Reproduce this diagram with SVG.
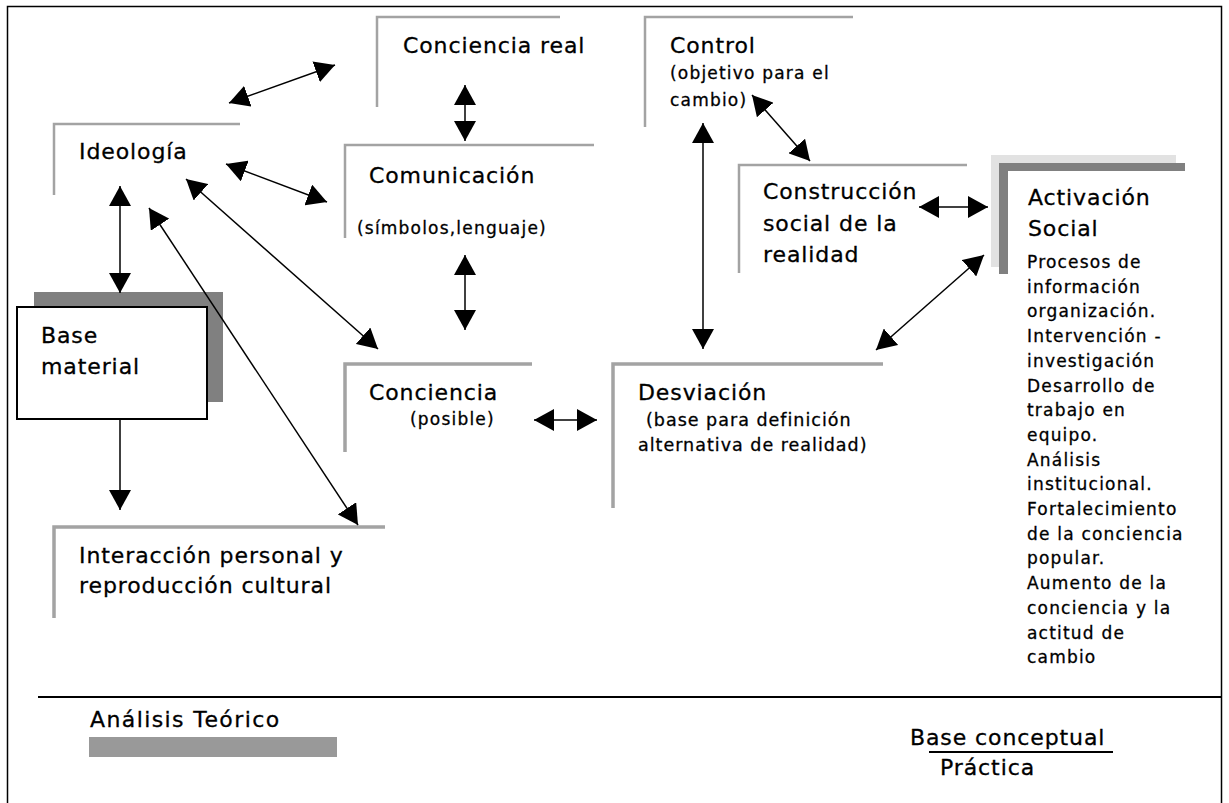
<svg xmlns="http://www.w3.org/2000/svg" width="1229" height="803" viewBox="0 0 1229 803">
<style>
text{font-family:"DejaVu Sans","Liberation Sans",sans-serif;fill:#000;stroke:#000;stroke-width:0.3px}
.big{font-size:22px;letter-spacing:0.9px}
.mid{font-size:17.5px;letter-spacing:1px}
.sm{font-size:17px;letter-spacing:1.2px}
.br{fill:none;stroke:#a3a3a3;stroke-width:2.5}
.brt{fill:none;stroke:#a3a3a3;stroke-width:3.5}
.con line{stroke:#000;stroke-width:1.5;marker-end:url(#ah)}
.con line.dbl{marker-start:url(#ah)}
</style>
<defs>
<marker id="ah" markerUnits="userSpaceOnUse" viewBox="0 0 20 22" markerWidth="20" markerHeight="22" refX="20" refY="11" orient="auto-start-reverse">
<path d="M0,0 L20,11 L0,22 z" fill="#000"/>
</marker>
</defs>
<rect x="7.5" y="6.5" width="1214" height="820" fill="none" stroke="#000" stroke-width="1.5"/>

<g id="conciencia-real">
<path class="br" d="M377,107 V17 H560"/>
<text class="big" x="403" y="53">Conciencia real</text>
</g>
<g id="ideologia">
<path class="br" d="M54,195 V124 H240"/>
<text class="big" x="79" y="159">Ideología</text>
</g>
<g id="comunicacion">
<path class="br" d="M345,238 V145 H594"/>
<text class="big" x="369" y="183">Comunicación</text>
<text class="sm" x="357" y="234">(símbolos,lenguaje)</text>
</g>
<g id="control">
<path class="br" d="M645,127 V17 H853"/>
<text class="big" x="670" y="53">Control</text>
<text class="sm" x="670" y="79">(objetivo para el</text>
<text class="sm" x="670" y="106">cambio)</text>
</g>
<g id="construccion">
<path class="br" d="M739,273 V165 H967"/>
<text class="big" x="763" y="199">Construcción</text>
<text class="big" x="763" y="231">social de la</text>
<text class="big" x="763" y="262">realidad</text>
</g>
<g id="activacion">
<path d="M991,155 H1176 V163 H999 V267 H991 Z" fill="#e2e2e2"/>
<path d="M999,163 H1185 V171 H1008 V274 H999 Z" fill="#808080"/>
<text class="big" x="1028" y="205">Activación</text>
<text class="big" x="1028" y="236">Social</text>
<text class="sm" x="1027" y="268">Procesos de</text>
<text class="sm" x="1027" y="292.7">información</text>
<text class="sm" x="1027" y="317.4">organización.</text>
<text class="sm" x="1027" y="342.1">Intervención -</text>
<text class="sm" x="1027" y="366.8">investigación</text>
<text class="sm" x="1027" y="391.5">Desarrollo de</text>
<text class="sm" x="1027" y="416.2">trabajo en</text>
<text class="sm" x="1027" y="440.9">equipo.</text>
<text class="sm" x="1027" y="465.6">Análisis</text>
<text class="sm" x="1027" y="490.3">institucional.</text>
<text class="sm" x="1027" y="515">Fortalecimiento</text>
<text class="sm" x="1027" y="539.7">de la conciencia</text>
<text class="sm" x="1027" y="564.4">popular.</text>
<text class="sm" x="1027" y="589.1">Aumento de la</text>
<text class="sm" x="1027" y="613.8">conciencia y la</text>
<text class="sm" x="1027" y="638.5">actitud de</text>
<text class="sm" x="1027" y="663.2">cambio</text>
</g>
<g id="base-material">
<rect x="34" y="292" width="189" height="110" fill="#808080"/>
<rect x="17" y="307" width="190" height="112" fill="#fff" stroke="#000" stroke-width="2"/>
<text class="big" x="41" y="343">Base</text>
<text class="big" x="41" y="374">material</text>
</g>
<g id="conciencia-posible">
<path class="brt" d="M345,452 V364 H532"/>
<text class="big" x="369" y="400">Conciencia</text>
<text class="sm" x="410" y="425">(posible)</text>
</g>
<g id="desviacion">
<path class="brt" d="M613,508 V364 H883"/>
<text class="big" x="638" y="400">Desviación</text>
<text class="mid" x="646" y="426">(base para definición</text>
<text class="mid" x="638" y="451">alternativa de realidad)</text>
</g>
<g id="interaccion">
<path class="brt" d="M54,618 V527 H385"/>
<text class="big" x="79" y="563">Interacción personal y</text>
<text class="big" x="79" y="593">reproducción cultural</text>
</g>

<g id="connectors" class="con">
<line class="dbl" x1="229" y1="103" x2="335" y2="65"/>
<line class="dbl" x1="465" y1="85" x2="465" y2="141"/>
<line class="dbl" x1="226" y1="164" x2="327" y2="202"/>
<line class="dbl" x1="120" y1="186" x2="120" y2="293"/>
<line class="dbl" x1="149" y1="208" x2="358" y2="525"/>
<line class="dbl" x1="186" y1="179" x2="378" y2="349"/>
<line class="dbl" x1="465" y1="255" x2="465" y2="330"/>
<line x1="120" y1="419" x2="120" y2="510"/>
<line class="dbl" x1="534" y1="420" x2="597" y2="420"/>
<line class="dbl" x1="703" y1="123" x2="703" y2="349"/>
<line class="dbl" x1="752" y1="95" x2="810" y2="161"/>
<line class="dbl" x1="919" y1="207" x2="988" y2="207"/>
<line class="dbl" x1="984" y1="255" x2="876" y2="350"/>
</g>

<g id="legend">
<line x1="38" y1="697" x2="1221" y2="697" stroke="#000" stroke-width="2"/>
<text class="big" x="90" y="727" style="letter-spacing:1.4px">Análisis Teórico</text>
<rect x="89" y="737" width="248" height="20" fill="#999"/>
<text class="big" x="910" y="745">Base conceptual</text>
<line x1="929" y1="752" x2="1113" y2="752" stroke="#000" stroke-width="2"/>
<text class="big" x="940" y="775">Práctica</text>
</g>
</svg>
